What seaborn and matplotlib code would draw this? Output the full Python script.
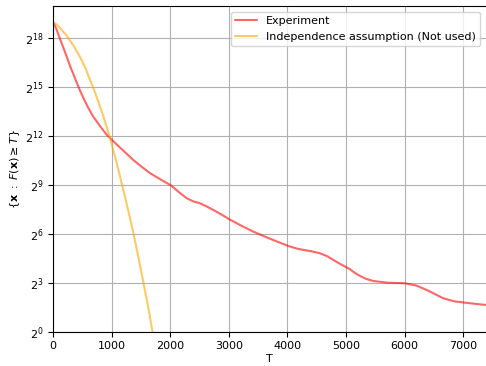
import numpy as np
import pandas as pd
import matplotlib
matplotlib.use("Agg")
import matplotlib.pyplot as plt
import matplotlib.ticker as mticker
import seaborn as sns

# Experiment curve: T values and log2 of the count
exp_T = [0, 60, 119, 200, 289, 402, 460, 515, 600, 685, 800, 911, 1081, 1200,
         1370, 1500, 1655, 1850, 2014, 2150, 2281, 2400, 2509, 2620, 2736,
         2880, 3009, 3200, 3418, 3700, 4015, 4150, 4271, 4400, 4556, 4680,
         4784, 4900, 5068, 5150, 5239, 5350, 5466, 5700, 6007, 6200, 6377,
         6500, 6660, 6850, 7031, 7200, 7389]
exp_log2 = [19, 18.55, 17.96, 17.2, 16.32, 15.3, 14.8, 14.36, 13.74, 13.2,
            12.62, 12.1, 11.5, 11.1, 10.53, 10.15, 9.72, 9.3, 8.97, 8.55, 8.18,
            7.98, 7.87, 7.68, 7.46, 7.17, 6.89, 6.52, 6.13, 5.7, 5.25, 5.1,
            5.01, 4.93, 4.8, 4.62, 4.39, 4.15, 3.82, 3.6, 3.41, 3.22, 3.1, 3.0,
            2.96, 2.82, 2.55, 2.33, 2.04, 1.85, 1.77, 1.7, 1.63]

# Independence assumption curve
ind_T = [0, 100, 234, 350, 461, 550, 631, 720, 802, 860, 916, 973, 1087, 1229,
         1314, 1370, 1456, 1541, 1626, 1695, 1730]
ind_log2 = [19, 18.72, 18.15, 17.55, 16.85, 16.2, 15.45, 14.65, 13.8, 13.2,
            12.55, 11.87, 10.35, 8.25, 6.97, 6.05, 4.6, 3.03, 1.47, 0.05, -0.65]

exp_label = "Experiment"
ind_label = "Independence assumption (Not used)"
ytick_exps = [0, 3, 6, 9, 12, 15, 18]
xticks = [0, 1000, 2000, 3000, 4000, 5000, 6000, 7000]

df = pd.concat([
    pd.DataFrame({"T": exp_T, "count": np.power(2.0, exp_log2), "series": exp_label}),
    pd.DataFrame({"T": ind_T, "count": np.power(2.0, ind_log2), "series": ind_label}),
])

sns.set_style("ticks")
plt.rcParams.update({
    "font.family": ["DejaVu Sans"],
    "font.size": 8,
    "axes.labelsize": 8,
    "xtick.labelsize": 8,
    "ytick.labelsize": 8,
    "legend.fontsize": 8,
    "axes.edgecolor": "black",
    "xtick.color": "black",
    "ytick.color": "black",
    "text.color": "black",
    "axes.labelcolor": "black",
    "lines.solid_joinstyle": "round",
})

fig = plt.figure(figsize=(4.86, 3.66), dpi=100)
ax = fig.add_axes([53 / 486, 34.5 / 366, 1 - 53 / 486, (331.5 - 6) / 366])

sns.lineplot(data=df, x="T", y="count", hue="series",
             palette={exp_label: "red", ind_label: "orange"},
             ax=ax, linewidth=1.5, alpha=0.6, sort=False, estimator=None)

ax.set_yscale("log", base=2)
ax.set_ylim(1, 2 ** 19.98)
ax.set_xlim(0, 7389)
ax.set_yticks([2.0 ** e for e in ytick_exps])
ax.yaxis.set_major_formatter(mticker.FuncFormatter(lambda v, p: r"$2^{%d}$" % round(np.log2(v))))
ax.yaxis.set_minor_locator(mticker.NullLocator())
ax.set_xticks(xticks)
ax.grid(True, color="#b0b0b0", linewidth=0.8)
ax.set_axisbelow(True)
for s in ["left", "bottom", "top"]:
    ax.spines[s].set_visible(True)
    ax.spines[s].set_color("black")
    ax.spines[s].set_linewidth(0.8)
ax.spines["right"].set_visible(False)
ax.tick_params(length=3.5, width=0.8)

ax.set_xlabel("T", labelpad=2)
ax.set_ylabel(r"$\{\mathbf{x}\ :\ F(\mathbf{x}) \geq T\}$", labelpad=2)
leg = ax.legend(loc="upper right", frameon=True)
leg.get_frame().set_alpha(0.8)
leg.get_frame().set_edgecolor("#cccccc")

fig.savefig("out.png", dpi=100)
